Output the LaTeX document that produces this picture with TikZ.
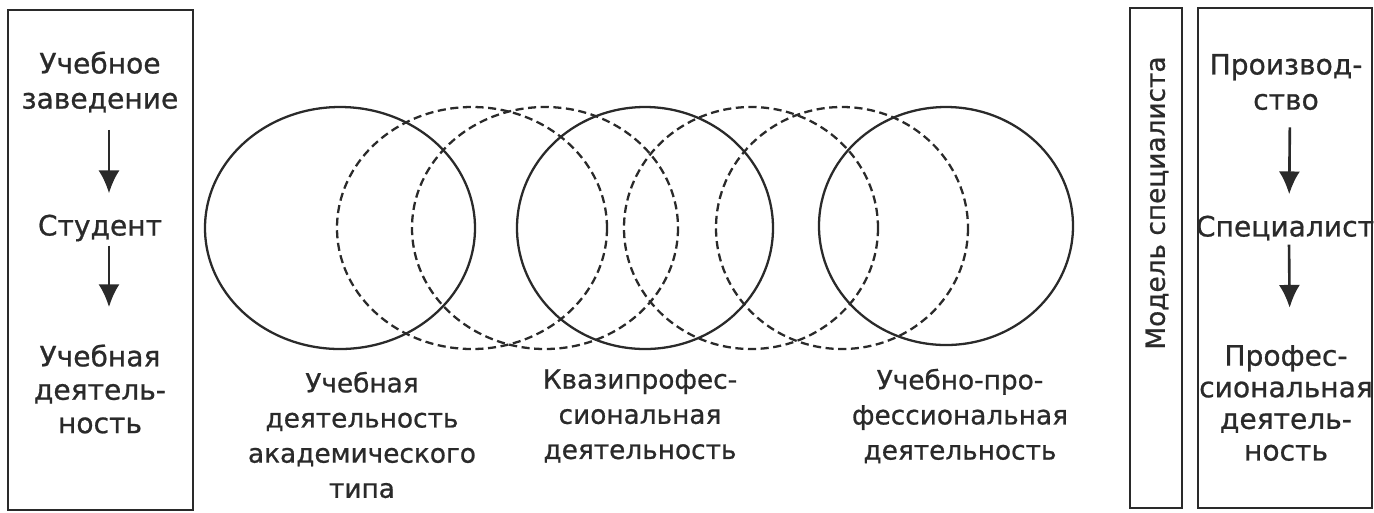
\documentclass[tikz,border=0pt]{standalone}
\usepackage{fontspec}
\setmainfont{DejaVu Sans}[FakeBold=0.8]
\usetikzlibrary{arrows.meta, positioning}
\definecolor{inkcolor}{HTML}{2A2A2A}
\tikzset{
  frame_box/.style={draw=inkcolor, line width=1.4pt},
  label_text/.style={align=center, text=inkcolor, inner sep=0pt, font=\fontsize{15}{20}\selectfont},
  box_text/.style={label_text, font=\fontsize{16}{20}\selectfont},
  circle_solid/.style={draw=inkcolor, line width=1.3pt},
  circle_dashed/.style={draw=inkcolor, line width=1.3pt, dash pattern=on 4.6pt off 2.6pt},
  arrow_down/.style={draw=inkcolor, line width=1.5pt, -{Latex[length=13pt, width=12pt]}}
}
\begin{document}
\begin{tikzpicture}[x=0.02cm, y=-0.02cm]
\path[use as bounding box] (0,0) rectangle (1374,512);
% left frame
\draw[frame_box] (8,10) rectangle (193,510);
\node[box_text] (inst_node) at (100,82) {Учебное\\заведение};
\node[box_text] (student_node) at (100,228) {Студент};
\node[box_text, font=\fontsize{16}{19}\selectfont] (study_node) at (100,389) {Учебная\\деятель-\\ность};
\draw[arrow_down, shorten <=0.34cm, shorten >=0.42cm] ([xshift=0.18cm]inst_node.south) -- ([xshift=0.18cm]student_node.north);
\draw[arrow_down, shorten <=0.08cm, shorten >=0.74cm] ([xshift=0.18cm]student_node.south) -- ([xshift=0.18cm]study_node.north);
% circles
\draw[circle_solid] (340,228) ellipse [x radius=135, y radius=121];
\draw[circle_dashed] (472,228) ellipse [x radius=135, y radius=121];
\draw[circle_dashed] (545,228) ellipse [x radius=133, y radius=121];
\draw[circle_solid] (645,228) ellipse [x radius=128, y radius=121];
\draw[circle_dashed] (751,228) ellipse [x radius=127, y radius=121];
\draw[circle_dashed] (842,228) ellipse [x radius=126, y radius=121];
\draw[circle_solid] (946,226) ellipse [x radius=127, y radius=119];
\node[label_text] (academic_node) at (362,435) {Учебная\\деятельность\\академического\\типа};
\node[label_text] (quasi_node) at (640,416) {Квазипрофес-\\сиональная\\деятельность};
\node[label_text] (practice_node) at (960,416) {Учебно-про-\\фессиональная\\деятельность};
% right frames
\draw[frame_box] (1130,8) rectangle (1182,508);
\node[label_text, rotate=90] (model_node) at (1157,203) {Модель специалиста};
\draw[frame_box] (1198,8) rectangle (1372,508);
\node[box_text] (prod_node) at (1286,82) {Производ-\\ство};
\node[box_text] (spec_node) at (1285,228) {Специалист};
\node[box_text, font=\fontsize{16}{18}\selectfont] (prof_node) at (1286,403) {Профес-\\сиональная\\деятель-\\ность};
\draw[arrow_down, shorten <=0.34cm, shorten >=0.42cm] ([xshift=0.08cm]prod_node.south) -- ([xshift=0.08cm]spec_node.north);
\draw[arrow_down, shorten <=0.08cm, shorten >=0.74cm] ([xshift=0.08cm]spec_node.south) -- ([xshift=0.08cm]prof_node.north);
\end{tikzpicture}
\end{document}
